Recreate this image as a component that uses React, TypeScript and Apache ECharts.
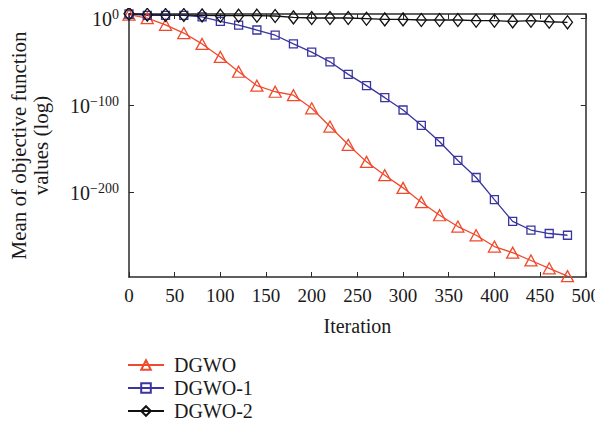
import React, { useEffect, useRef } from "react";
import * as echarts from "echarts";

const iterations = [0, 20, 40, 60, 80, 100, 120, 140, 160, 180, 200, 220, 240, 260, 280, 300, 320, 340, 360, 380, 400, 420, 440, 460, 480];
// log10 of mean objective value
const dgwo = [4.6, 0.6, -7, -16.5, -29, -44, -61, -77, -84, -88, -103, -124, -145, -164.6, -180, -194.5, -211, -226, -239, -249, -262, -269, -278, -287, -296];
const dgwo1 = [5.4, 3.8, 3.8, 3.8, 2, -3, -7.3, -13, -19, -29, -38.4, -49.6, -64, -77, -90.8, -105, -122.6, -141.5, -163, -182.6, -208, -233, -243, -247, -249];
const dgwo2 = [5.8, 4.6, 4.2, 4.2, 3.8, 3.5, 3.5, 3.5, 3.1, 1.5, 0.8, 0.8, 0.8, 0, -0.8, -0.8, -1.5, -1.5, -1.5, -2.3, -2.3, -3.1, -2.3, -3.5, -4.2];
const yTicks = [0, -100, -200];
const seriesNames = ["DGWO", "DGWO-1", "DGWO-2"];

const FONT = "Liberation Serif";
const AXIS = "#2a2a2a";
const TXT = "#1a1a1a";

export default function App() {
  const ref = useRef<HTMLDivElement>(null);
  useEffect(() => {
    const chart = echarts.init(ref.current!, null, { renderer: "svg" });
    const mk = (name: string, data: number[], color: string, symbol: string, size: any) => ({
      name,
      type: "line",
      data: iterations.map((x, i) => [x, data[i]]),
      symbol,
      symbolSize: size,
      clip: false,
      lineStyle: { color, width: 1.3 },
      itemStyle: { color: "rgba(255,255,255,0)", borderColor: color, borderWidth: 1.3 },
    });
    const yLabel = (v: number) => (v === 0 ? "{b|10}{s|0}" : "{b|10}{s|−" + -v + "}");
    chart.setOption({
      animation: false,
      grid: { left: 127, right: 16, top: 14, bottom: 160 },
      legend: {
        orient: "vertical",
        left: 127,
        top: 355,
        padding: 0,
        itemWidth: 36,
        itemHeight: 12,
        itemGap: 3,
        data: seriesNames,
        textStyle: { fontFamily: FONT, fontSize: 20, color: TXT, lineHeight: 20, padding: [0, 0, 0, 5] },
      },
      xAxis: [
        {
          type: "value",
          min: 0,
          max: 500,
          interval: 50,
          name: "Iteration",
          nameLocation: "middle",
          nameGap: 39,
          nameTextStyle: { fontFamily: FONT, fontSize: 20, color: TXT },
          axisLine: { show: true, onZero: false, lineStyle: { color: AXIS, width: 1.5 } },
          axisTick: { show: true, inside: true, length: 5, lineStyle: { color: AXIS } },
          axisLabel: { fontFamily: FONT, fontSize: 19, color: TXT, margin: 9 },
          splitLine: { show: false },
        },
        {
          type: "value",
          position: "top",
          min: 0,
          max: 500,
          interval: 50,
          axisLine: { show: true, onZero: false, lineStyle: { color: AXIS, width: 1.5 } },
          axisTick: { show: true, inside: true, length: 5, lineStyle: { color: AXIS } },
          axisLabel: { show: false },
          splitLine: { show: false },
        },
      ],
      yAxis: [
        {
          type: "value",
          min: -297,
          max: 5.4,
          name: "Mean of objective function\nvalues (log)",
          nameLocation: "middle",
          nameGap: 77,
          nameTextStyle: { fontFamily: FONT, fontSize: 21, color: TXT, lineHeight: 22 },
          axisLine: { show: true, onZero: false, lineStyle: { color: AXIS, width: 1.5 } },
          axisTick: { show: true, inside: true, length: 5, customValues: yTicks, lineStyle: { color: AXIS } },
          axisLabel: {
            customValues: yTicks,
            margin: 10,
            formatter: yLabel,
            rich: {
              b: { fontFamily: FONT, fontSize: 20, color: TXT, lineHeight: 22 },
              s: { fontFamily: FONT, fontSize: 14, color: TXT, lineHeight: 14, verticalAlign: "top" },
            },
          },
          splitLine: { show: false },
        },
        {
          type: "value",
          position: "right",
          min: -297,
          max: 5.4,
          axisLine: { show: true, onZero: false, lineStyle: { color: AXIS, width: 1.5 } },
          axisTick: { show: true, inside: true, length: 5, customValues: yTicks, lineStyle: { color: AXIS } },
          axisLabel: { show: false },
          splitLine: { show: false },
        },
      ],
      series: [
        mk(seriesNames[0], dgwo, "#f04a2c", "triangle", [12, 11]),
        mk(seriesNames[1], dgwo1, "#3a35a0", "rect", 8),
        mk(seriesNames[2], dgwo2, "#111", "diamond", [10, 13]),
      ],
    });
    return () => chart.dispose();
  }, []);
  return <div ref={ref} style={{ width: 603, height: 437, margin: -8 }} />;
}
